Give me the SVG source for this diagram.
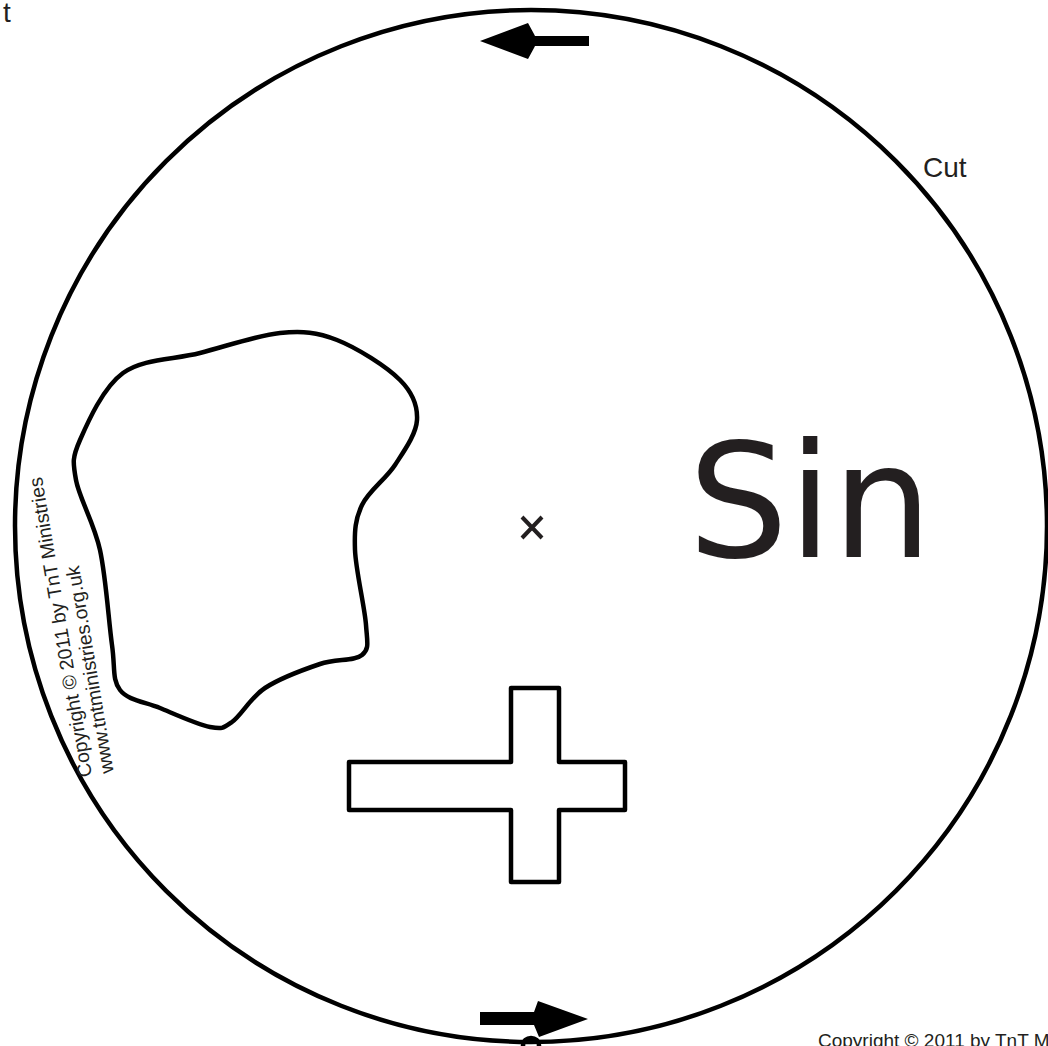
<svg xmlns="http://www.w3.org/2000/svg" width="1048" height="1046" viewBox="0 0 1048 1046">
<style>
.ln{fill:none;stroke:#000;stroke-width:4.5;stroke-linejoin:round}
.sm{font-family:"Liberation Sans",Arial,sans-serif;fill:#231f20}
.ar{fill:#000}
</style>
<rect width="1048" height="1046" fill="#fff"/>
<g id="disc">
<circle class="ln" cx="531" cy="526" r="516" stroke-width="5"/>
<ellipse class="ln" cx="531" cy="1045" rx="8" ry="7" stroke-width="3"/>
</g>
<g id="blob">
<path class="ln" d="M123,373 C143,358.5 173.8,359.7 200,353 C226.2,346.3 257.2,335.2 280,333 C302.8,330.8 317,332.2 337,340 C357,347.8 386.7,366.7 400,380 C413.3,393.3 417.8,405.8 417,420 C416.2,434.2 404.2,450.8 395,465 C385.8,479.2 368.7,490.8 362,505 C355.3,519.2 354.3,530 355,550 C355.7,570 364.8,607.5 366,625 C367.2,642.5 369.7,648.5 362,655 C354.3,661.5 336.2,658.5 320,664 C303.8,669.5 279.7,678.3 265,688 C250.3,697.7 241.2,715.5 232,722 C222.8,728.5 222,729.3 210,727 C198,724.7 175,714.2 160,708 C145,701.8 128,700.5 120,690 C112,679.5 115.3,668.3 112,645 C108.7,621.7 106,577.5 100,550 C94,522.5 79.3,498.3 76,480 C72.7,461.7 72.2,457.8 80,440 C87.8,422.2 103,387.5 123,373 Z"/>
</g>
<g id="cross">
<path class="ln" stroke-width="4" stroke-linejoin="miter" d="M511,688 H559 V762 H625 V810 H559 V882 H511 V810 H349 V762 H511 Z"/>
</g>
<g id="centre-mark">
<path d="M522,517 L542,538 M542,517 L522,538" stroke="#231f20" stroke-width="4" fill="none"/>
</g>
<g id="connectors">
<polygon class="ar" points="480,41 528,23 534,34 535,36 589,36 589,46 535,46 534,48 528,59"/>
<polygon class="ar" points="480,1012 534,1012 538,1001 588,1019 539,1037 534,1025 480,1025"/>
</g>
<g id="labels">
<text x="688" y="557" font-family="DejaVu Sans, sans-serif" font-size="158" fill="#231f20">Sin</text>
<text class="sm" x="923" y="177" font-size="28">Cut</text>
<text class="sm" x="3" y="22" font-size="28">t</text>
<text class="sm" x="818" y="1047" font-size="19">Copyright © 2011 by TnT Ministries</text>
<text class="sm" font-size="19.5" transform="translate(92,776) rotate(-99.5)"><tspan x="0" y="0">Copyright © 2011 by TnT Ministries</tspan><tspan x="0" y="22">www.tntministries.org.uk</tspan></text>
</g>
</svg>
